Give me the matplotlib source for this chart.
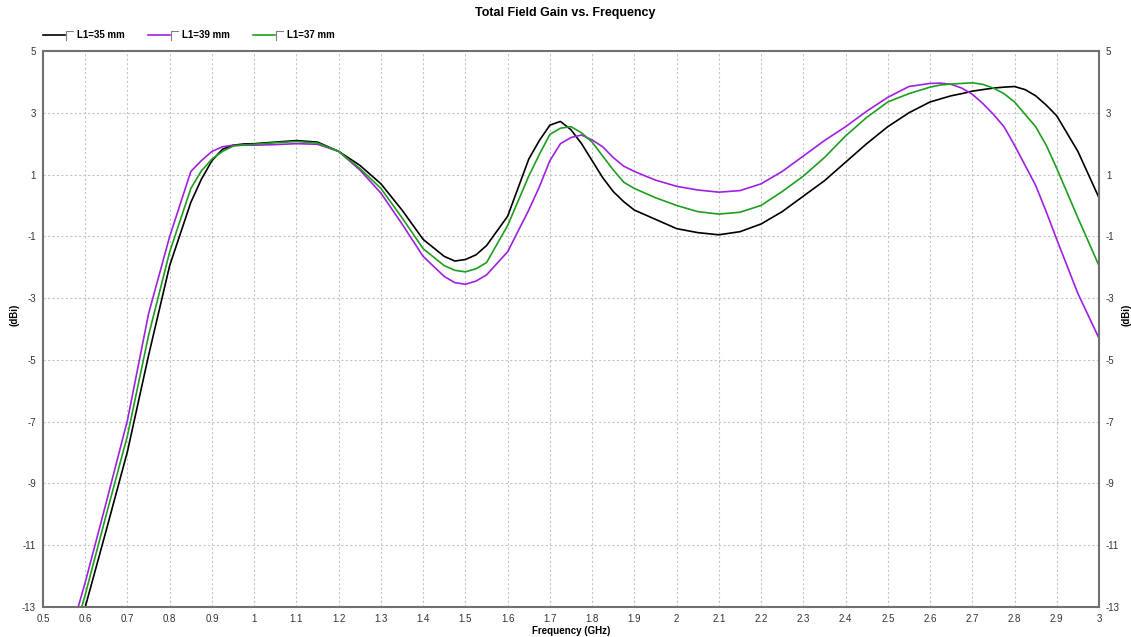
import matplotlib
matplotlib.use("Agg")
import matplotlib.pyplot as plt
from matplotlib.lines import Line2D
from matplotlib.ticker import MultipleLocator, FixedLocator, FuncFormatter

plt.rcParams['font.family'] = ['Liberation Sans', 'DejaVu Sans']

freq = [0.575, 0.60, 0.65, 0.70, 0.75, 0.80,
        0.85, 0.875, 0.90, 0.925, 0.95, 0.975,
        1.00, 1.05, 1.10, 1.15, 1.20, 1.25, 1.30, 1.35, 1.40, 1.45,
        1.475, 1.50, 1.525, 1.55, 1.60, 1.65, 1.675,
        1.70, 1.725, 1.75, 1.775, 1.80, 1.825, 1.85, 1.875,
        1.90, 1.95, 2.00, 2.05, 2.10, 2.15, 2.20, 2.25, 2.30, 2.35,
        2.40, 2.45, 2.50, 2.55, 2.60, 2.625, 2.65, 2.675, 2.70, 2.725,
        2.75, 2.775, 2.80, 2.825, 2.85, 2.875, 2.90, 2.95, 3.00]

gain_35 = [-14.1, -13.0, -10.5, -7.96, -4.85, -1.94,
           0.1, 0.85, 1.45, 1.82, 1.95, 1.99,
           2.0, 2.05, 2.1, 2.05, 1.75, 1.3, 0.7, -0.15, -1.1, -1.65,
           -1.8, -1.75, -1.6, -1.3, -0.35, 1.5, 2.1,
           2.6, 2.72, 2.45, 2.0, 1.45, 0.9, 0.45, 0.12,
           -0.15, -0.45, -0.75, -0.88, -0.95, -0.85, -0.6, -0.2, 0.3, 0.8,
           1.4, 2.0, 2.55, 3.0, 3.35, 3.45, 3.55, 3.62, 3.7, 3.75,
           3.8, 3.83, 3.85, 3.75, 3.55, 3.25, 2.9, 1.75, 0.25]

gain_39 = [-13.4, -12.2, -9.6, -6.95, -3.5, -1.0,
           1.1, 1.45, 1.75, 1.9, 1.95, 1.95,
           1.95, 1.97, 2.0, 1.98, 1.75, 1.15, 0.4, -0.6, -1.65, -2.3,
           -2.5, -2.55, -2.45, -2.25, -1.5, -0.15, 0.6,
           1.45, 2.0, 2.2, 2.28, 2.12, 1.9, 1.55, 1.27,
           1.1, 0.82, 0.62, 0.5, 0.43, 0.48, 0.7, 1.1, 1.6, 2.1,
           2.55, 3.05, 3.5, 3.85, 3.95, 3.96, 3.92, 3.8, 3.6, 3.3,
           2.95, 2.55, 1.95, 1.3, 0.65, -0.2, -1.1, -2.85, -4.3]

gain_37 = [-13.8, -12.6, -10.0, -7.45, -4.2, -1.5,
           0.55, 1.12, 1.5, 1.75, 1.92, 1.96,
           1.98, 2.03, 2.07, 2.02, 1.75, 1.2, 0.55, -0.4, -1.4, -1.95,
           -2.1, -2.15, -2.05, -1.85, -0.65, 0.95, 1.65,
           2.3, 2.5, 2.55, 2.35, 2.05, 1.6, 1.15, 0.75,
           0.55, 0.25, 0.0, -0.2, -0.28, -0.22, 0.0, 0.45, 0.95, 1.55,
           2.25, 2.85, 3.35, 3.62, 3.83, 3.9, 3.93, 3.95, 3.97, 3.92,
           3.8, 3.62, 3.35, 2.95, 2.55, 1.95, 1.2, -0.4, -1.95]

labels = ["L1=35 mm", "L1=39 mm", "L1=37 mm"]
colors = ["#000000", "#A020E0", "#1E9E1E"]
series = [gain_35, gain_39, gain_37]
yticks = [-13, -11, -9, -7, -5, -3, -1, 1, 3, 5]

W, H = 1131, 637
fig = plt.figure(figsize=(W / 100, H / 100), dpi=100)
L, R, T, B = 43, 1099, 51, 607
ax = fig.add_axes([L / W, 1 - B / H, (R - L) / W, (B - T) / H])

for y, c in zip(series, colors):
    ax.plot(freq, y, color=c, lw=1.2, solid_joinstyle='round')

ax.set_xlim(0.5, 3.0)
ax.set_ylim(-13, 5)
ax.xaxis.set_major_locator(MultipleLocator(0.1))
ax.yaxis.set_major_locator(FixedLocator(yticks))
ax.xaxis.set_major_formatter(FuncFormatter(lambda v, p: f"{v:.1f}".rstrip('0').rstrip('.')))
ax.yaxis.set_major_formatter(FuncFormatter(lambda v, p: f"{int(round(v))}"))
ax.grid(True, color="#c4c4c4", linestyle=(0, (2, 2)), linewidth=0.8)
ax.tick_params(axis='both', length=0, labelsize=7, colors="#333333", pad=5)
ax.tick_params(axis='y', labelright=True, labelleft=True)
for s in ax.spines.values():
    s.set_color("#707070")
    s.set_linewidth(1.5)

fig.text(565 / W, 1 - 13 / H, "Total Field Gain vs. Frequency", ha='center', va='center',
         fontsize=9, fontweight='bold')
fig.text(571 / W, 1 - 631 / H, "Frequency (GHz)", ha='center', va='center',
         fontsize=7, fontweight='bold')
fig.text(14 / W, 1 - 315 / H, "(dBi)", ha='center', va='center', rotation=90,
         fontsize=7, fontweight='bold')
fig.text(1126 / W, 1 - 315 / H, "(dBi)", ha='center', va='center', rotation=90,
         fontsize=7, fontweight='bold')


def fx(px):
    return px / W


def fy(py):
    return 1 - py / H


ly = 35
for x0, lab, c in zip([43, 148, 253], labels, colors):
    fig.add_artist(Line2D([fx(x0), fx(x0 + 22)], [fy(ly), fy(ly)], color=c, lw=1.2,
                          transform=fig.transFigure))
    fig.add_artist(Line2D([fx(x0 + 23), fx(x0 + 23), fx(x0 + 30)],
                          [fy(ly + 5), fy(ly - 4), fy(ly - 4)], color="#808080", lw=0.8,
                          transform=fig.transFigure))
    fig.text(fx(x0 + 34), fy(ly), lab, ha='left', va='center', fontsize=7, fontweight='bold')

fig.savefig("out.png", dpi=100)
